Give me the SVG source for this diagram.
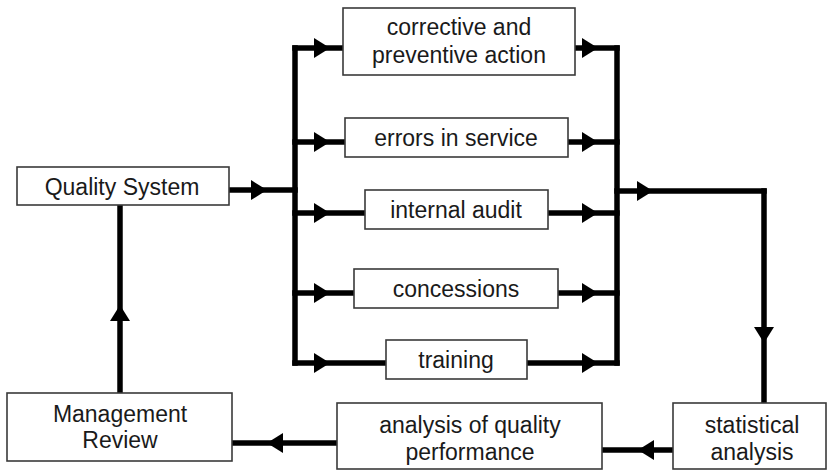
<svg xmlns="http://www.w3.org/2000/svg" width="829" height="471" viewBox="0 0 829 471">
  <defs>
    <marker id="tri" viewBox="-18 -11 19 22" markerWidth="19" markerHeight="22" refX="0" refY="0" markerUnits="userSpaceOnUse" orient="auto">
      <path d="M-16,-10 L0,0 L-16,10 Z" fill="#000"/>
    </marker>
    <style>
      .box { fill: #fff; stroke: #3a3a3a; stroke-width: 1.6; }
      .lbl { font-family: "Liberation Sans", Arial, sans-serif; font-size: 23px; fill: #1a1a1a; text-anchor: middle; }
      .wire { fill: none; stroke: #000; stroke-width: 5.5; stroke-linejoin: miter; stroke-linecap: square; }
      .arr { marker-mid: url(#tri); }
    </style>
  </defs>
  <rect width="829" height="471" fill="#fff"/>

  <g id="connectors">
    <!-- Quality System to left bus -->
    <path class="wire arr" d="M229,190 L267,190 L295,190"/>
    <!-- left bus -->
    <path class="wire" d="M295,48 L295,363"/>
    <!-- fan out to activities -->
    <path class="wire arr" d="M295,48 L330,48 L343,48"/>
    <path class="wire arr" d="M295,142 L330,142 L345,142"/>
    <path class="wire arr" d="M295,213 L330,213 L365,213"/>
    <path class="wire arr" d="M295,293 L330,293 L354,293"/>
    <path class="wire arr" d="M295,363 L330,363 L386,363"/>
    <!-- collect into right bus -->
    <path class="wire arr" d="M575,48 L598,48 L617,48"/>
    <path class="wire arr" d="M568,142 L598,142 L617,142"/>
    <path class="wire arr" d="M548,213 L598,213 L617,213"/>
    <path class="wire arr" d="M558,293 L598,293 L617,293"/>
    <path class="wire arr" d="M527,363 L598,363 L617,363"/>
    <!-- right bus -->
    <path class="wire" d="M617,48 L617,363"/>
    <!-- to statistical analysis -->
    <path class="wire arr" d="M617,191 L653,191 L764,191"/>
    <path class="wire arr" d="M764,191 L764,343 L764,403"/>
    <!-- statistical analysis to analysis of quality performance -->
    <path class="wire arr" d="M673,450 L638,450 L602,450"/>
    <!-- analysis of quality performance to Management Review -->
    <path class="wire arr" d="M337,443 L267,443 L232,443"/>
    <!-- Management Review back to Quality System -->
    <path class="wire arr" d="M120,393 L120,305 L120,205"/>
  </g>

  <g id="quality-system">
    <rect class="box" x="17" y="167" width="212" height="38"/>
    <text class="lbl" x="122" y="195">Quality System</text>
  </g>

  <g id="corrective-action">
    <rect class="box" x="343" y="8" width="232" height="67"/>
    <text class="lbl" x="459" y="35">corrective and</text>
    <text class="lbl" x="459" y="63">preventive action</text>
  </g>

  <g id="errors-in-service">
    <rect class="box" x="345" y="118" width="223" height="39"/>
    <text class="lbl" x="456" y="146">errors in service</text>
  </g>

  <g id="internal-audit">
    <rect class="box" x="365" y="190" width="183" height="39"/>
    <text class="lbl" x="456" y="218">internal audit</text>
  </g>

  <g id="concessions">
    <rect class="box" x="354" y="269" width="204" height="39"/>
    <text class="lbl" x="456" y="297">concessions</text>
  </g>

  <g id="training">
    <rect class="box" x="386" y="340" width="141" height="39"/>
    <text class="lbl" x="456" y="368">training</text>
  </g>

  <g id="statistical-analysis">
    <rect class="box" x="673" y="403" width="153" height="66"/>
    <text class="lbl" x="752" y="433">statistical</text>
    <text class="lbl" x="752" y="460">analysis</text>
  </g>

  <g id="quality-performance">
    <rect class="box" x="337" y="403" width="265" height="66"/>
    <text class="lbl" x="470" y="433">analysis of quality</text>
    <text class="lbl" x="470" y="460">performance</text>
  </g>

  <g id="management-review">
    <rect class="box" x="7" y="393" width="225" height="68"/>
    <text class="lbl" x="120" y="422">Management</text>
    <text class="lbl" x="120" y="448">Review</text>
  </g>
</svg>
